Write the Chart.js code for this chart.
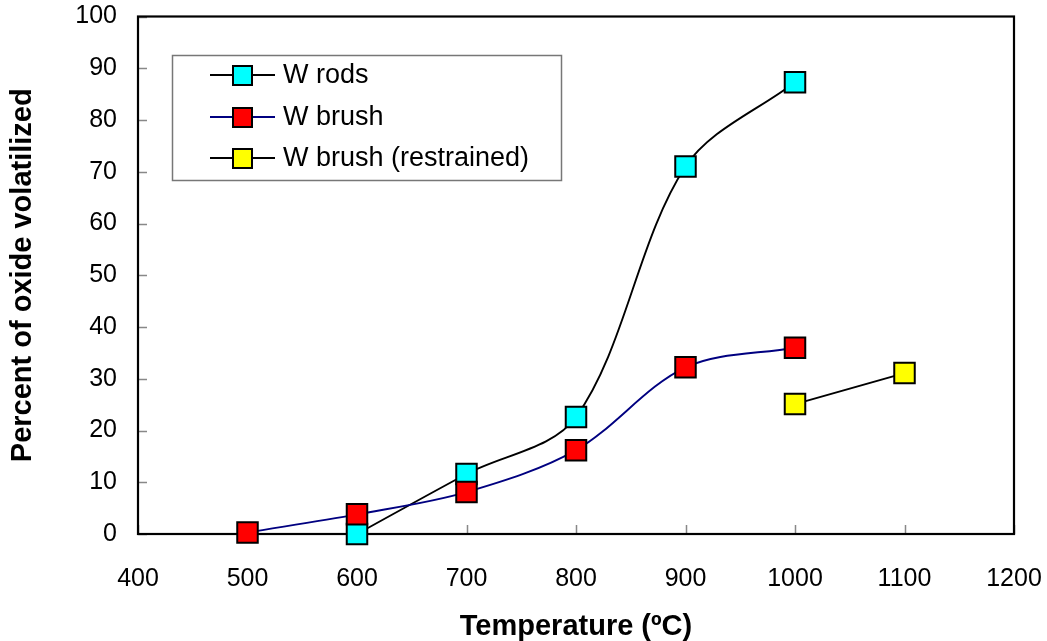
<!DOCTYPE html>
<html>
<head>
<meta charset="utf-8">
<script src="https://cdn.jsdelivr.net/npm/chart.js@4.4.1/dist/chart.umd.min.js"></script>
<style>
html,body{margin:0;padding:0;background:#fff;}
#wrap{width:1047px;height:641px;}
</style>
</head>
<body>
<div id="wrap"><canvas id="chart"></canvas></div>
<script>
const rodTemps = [600, 700, 800, 900, 1000];
const rodPct = [0, 11.6, 22.6, 71, 87.3];

const brushTemps = [500, 600, 700, 800, 900, 1000];
const brushPct = [0.3, 3.8, 8.1, 16.2, 32.2, 36];

const restrainedTemps = [1000, 1100];
const restrainedPct = [25.1, 31.1];

const seriesNames = ['W rods', 'W brush', 'W brush (restrained)'];
const xTicks = [400, 500, 600, 700, 800, 900, 1000, 1100, 1200];
const yTicks = [0, 10, 20, 30, 40, 50, 60, 70, 80, 90, 100];

const FONT = '"Liberation Sans", Arial, sans-serif';

function points(xs, ys){
return xs.map((x,i)=>({x:x, y:ys[i]}));
}

function series(label, xs, ys, fill, line, order){
return {
label:label,
data:points(xs, ys),
showLine:true,
borderColor:line,
borderWidth:1.9,
tension:0.33,
pointStyle:'rect',
pointRadius:14.5,
pointHoverRadius:14.5,
pointBackgroundColor:fill,
pointBorderColor:'#000',
pointBorderWidth:2,
clip:false,
order:order
};
}

// no extra room for label overhang, the layout padding handles it
function noOverhang(s){
s.paddingTop = 0; s.paddingBottom = 0;
s.paddingLeft = 0; s.paddingRight = 0;
}

// frame round the plot area plus inward tick marks
const framePlugin = {
id:'frame',
beforeDatasetsDraw(chart){
const {ctx, chartArea:a, scales:{x, y}} = chart;
ctx.save();
ctx.strokeStyle = '#888';
ctx.lineWidth = 1.5;
ctx.beginPath();
yTicks.forEach(v=>{
const py = Math.round(y.getPixelForValue(v)) + 0.5;
ctx.moveTo(a.left, py);
ctx.lineTo(a.left + 9, py);
});
xTicks.forEach(v=>{
const px = Math.round(x.getPixelForValue(v)) + 0.5;
ctx.moveTo(px, a.bottom);
ctx.lineTo(px, a.bottom - 9);
});
ctx.stroke();
ctx.strokeStyle = '#000';
ctx.lineWidth = 2.2;
ctx.strokeRect(a.left, a.top, a.right - a.left, a.bottom - a.top);
ctx.restore();
}
};

// boxed legend inside the plot
const legendPlugin = {
id:'boxLegend',
afterDatasetsDraw(chart){
const ctx = chart.ctx;
const box = {x:172, y:55, w:389, h:125};
ctx.save();
ctx.fillStyle = '#fff';
ctx.fillRect(box.x, box.y, box.w, box.h);
ctx.strokeStyle = '#777';
ctx.lineWidth = 1.5;
ctx.strokeRect(box.x + 0.5, box.y + 0.5, box.w, box.h);
const rows = [75, 117, 158];
chart.data.datasets.forEach((ds, i)=>{
const cy = rows[i];
ctx.strokeStyle = ds.borderColor;
ctx.lineWidth = 1.9;
ctx.beginPath();
ctx.moveTo(210, cy);
ctx.lineTo(275, cy);
ctx.stroke();
ctx.fillStyle = ds.pointBackgroundColor;
ctx.fillRect(233, cy - 9, 19, 19);
ctx.strokeStyle = '#000';
ctx.lineWidth = 2;
ctx.strokeRect(233, cy - 9, 19, 19);
ctx.fillStyle = '#000';
ctx.font = '27px ' + FONT;
ctx.textBaseline = 'middle';
ctx.fillText(seriesNames[i], 283, cy + 1);
});
ctx.restore();
}
};

new Chart(document.getElementById('chart'), {
type:'scatter',
data:{
datasets:[
series(seriesNames[0], rodTemps, rodPct, '#00ffff', '#000', 2),
series(seriesNames[1], brushTemps, brushPct, '#ff0000', '#000080', 1),
series(seriesNames[2], restrainedTemps, restrainedPct, '#ffff00', '#000', 0)
]
},
options:{
responsive:true,
maintainAspectRatio:false,
animation:false,
layout:{padding:{top:16, right:33, left:0, bottom:0}},
plugins:{legend:{display:false}, tooltip:{enabled:false}},
scales:{
x:{
type:'linear',
min:400, max:1200,
afterBuildTicks(s){ s.ticks = xTicks.map(v=>({value:v})); },
afterFit(s){ s.height = 107; noOverhang(s); },
grid:{display:false, drawTicks:false},
border:{display:false},
ticks:{color:'#000', padding:30, font:{family:FONT, size:25},
callback:v=>String(v)},
title:{display:true, text:'Temperature (ºC)', color:'#000',
font:{family:FONT, size:29, weight:'bold'}, padding:{top:0, bottom:-3}}
},
y:{
min:0, max:100,
afterBuildTicks(s){ s.ticks = yTicks.map(v=>({value:v})); },
afterFit(s){ s.width = 138; noOverhang(s); },
grid:{display:false, drawTicks:false},
border:{display:false},
ticks:{color:'#000', padding:21, font:{family:FONT, size:25},
callback:v=>String(v)},
title:{display:true, text:'Percent of oxide volatilized', color:'#000',
font:{family:FONT, size:29, weight:'bold'}, padding:{top:6, bottom:0}}
}
}
},
plugins:[framePlugin, legendPlugin]
});
</script>
</body>
</html>
